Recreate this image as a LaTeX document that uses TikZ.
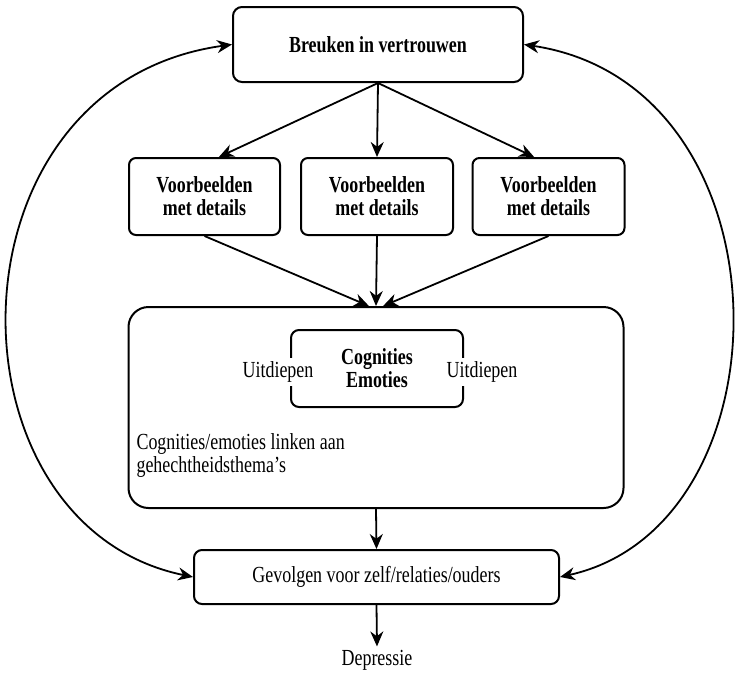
\documentclass[tikz,border=0pt]{standalone}
\usepackage{fontspec}
\setmainfont{Liberation Serif}[FakeStretch=0.78]
\usetikzlibrary{arrows.meta}
\begin{document}
\begin{tikzpicture}[x=1pt,y=-1pt,
    font={\fontsize{23}{23}\selectfont},
    box/.style={draw, line width=2pt, rounded corners=9pt, align=center},
    pijl/.style={-{Stealth[length=15pt,width=13pt]}, line width=1.8pt},
    dubbelpijl/.style={{Stealth[length=15pt,width=13pt]}-{Stealth[length=15pt,width=13pt]}, line width=1.8pt}]
    \useasboundingbox (0,0) rectangle (739,673);
    % top
    \node[box, minimum width=290pt, minimum height=75pt] (breuk) at (378,44.5) {\textbf{Breuken in vertrouwen}};
    % voorbeelden
    \node[box, minimum width=151pt, minimum height=77pt, rounded corners=7pt] (vb1) at (204.5,196.5) {\textbf{Voorbeelden}\\\textbf{met details}};
    \node[box, minimum width=152pt, minimum height=77pt, rounded corners=7pt] (vb2) at (377,196.5) {\textbf{Voorbeelden}\\\textbf{met details}};
    \node[box, minimum width=152pt, minimum height=77pt, rounded corners=7pt] (vb3) at (548.5,196.5) {\textbf{Voorbeelden}\\\textbf{met details}};
    % groot blok
    \node[box, minimum width=495pt, minimum height=201pt, rounded corners=20pt] (blok) at (376,407.5) {};
    \node[box, minimum width=172pt, minimum height=77pt, rounded corners=8pt] (kern) at (377,368.5) {\textbf{Cognities}\\\textbf{Emoties}};
    \node[fill=white] (uit1) at (278,372) {Uitdiepen};
    \node[fill=white] (uit2) at (482,372) {Uitdiepen};
    \node[anchor=west, align=left] (link) at (133,455) {Cognities/emoties linken aan\\gehechtheidsthema's};
    % onderaan
    \node[box, minimum width=365pt, minimum height=54pt, rounded corners=8pt] (gevolg) at (376.5,577) {Gevolgen voor zelf/relaties/ouders};
    \node (depr) at (377,660) {Depressie};

    \draw[pijl] (breuk.south) -- (vb1.70);
    \draw[pijl] (breuk.south) -- (vb2.north);
    \draw[pijl] (breuk.south) -- (vb3.110);
    \draw[pijl] (vb1.south) -- (blok.94);
    \draw[pijl] (vb2.south) -- (blok.north);
    \draw[pijl] (vb3.south) -- (blok.86);
    \draw[pijl] (blok.south) -- (gevolg.north);
    \draw[pijl] (gevolg.south) -- (depr.north);
    \draw[dubbelpijl] (breuk.west) .. controls (-60,85) and (-60,525) .. (gevolg.west);
    \draw[dubbelpijl] (breuk.east) .. controls (794,85) and (794,525) .. (gevolg.east);
\end{tikzpicture}
\end{document}
